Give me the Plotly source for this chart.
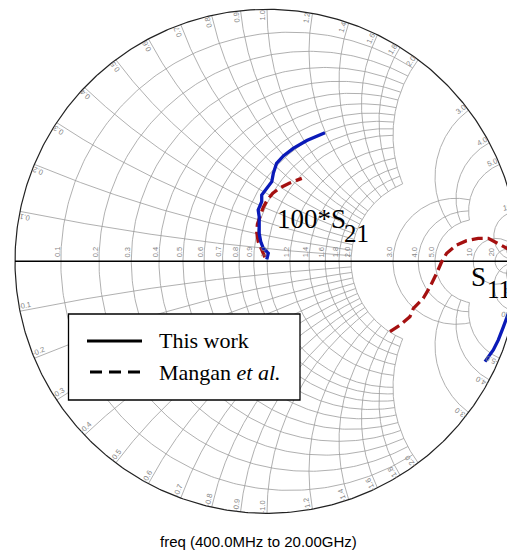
import numpy as np
import plotly.graph_objects as go

# ---------------- data (reflection coefficients, Gamma plane) ----------------
s21_this_re = [-0.001, 0.005, -0.015, -0.025, -0.031, -0.031, -0.031, -0.035, -0.021, -0.021,
               -0.001, 0.019, 0.025, 0.038, 0.065, 0.104, 0.158, 0.230]
s21_this_im = [0.008, 0.032, 0.052, 0.078, 0.111, 0.151, 0.177, 0.204, 0.237, 0.263,
               0.290, 0.316, 0.349, 0.389, 0.418, 0.448, 0.479, 0.510]

s21_mangan_re = [-0.008, -0.021, -0.035, -0.041, -0.038, -0.028, -0.015, 0.001, 0.023, 0.052, 0.088, 0.138]
s21_mangan_im = [0.016, 0.045, 0.078, 0.117, 0.148, 0.177, 0.214, 0.243, 0.270, 0.292, 0.310, 0.329]

s11_mangan_re = [0.488, 0.528, 0.567, 0.581, 0.620, 0.647, 0.673, 0.693, 0.713, 0.753,
                 0.792, 0.838, 0.878, 0.918, 0.964, 0.984]
s11_mangan_im = [-0.279, -0.253, -0.220, -0.187, -0.147, -0.101, -0.048, -0.002, 0.032, 0.065,
                 0.082, 0.091, 0.091, 0.071, 0.045, 0.032]

s11_this_re = [0.984, 0.971, 0.958, 0.938, 0.918, 0.898, 0.865]
s11_this_im = [-0.101, -0.154, -0.206, -0.260, -0.312, -0.352, -0.398]

# grid values (normalized resistance / reactance) and their labels
grid_vals = [0.1, 0.2, 0.3, 0.4, 0.5, 0.6, 0.7, 0.8, 0.9, 1.0,
             1.2, 1.4, 1.6, 1.8, 2.0, 3.0, 4.0, 5.0, 10, 20]
grid_labels = ["0.1", "0.2", "0.3", "0.4", "0.5", "0.6", "0.7", "0.8", "0.9", "1.0",
               "1.2", "1.4", "1.6", "1.8", "2.0", "3.0", "4.0", "5.0", "10", "20"]

legend_names = ["This work", "Mangan <i>et al.</i>"]
xlabel_text = "freq (400.0MHz to 20.00GHz)"

# ---------------- geometry of the page ----------------
OFF = 8                      # page body margin
W, H = 515 - OFF, 553 - OFF  # figure size
PLOT_H = 525 - OFF           # plot-area height (figure px)
CX, CY, RPX = 267.0 - OFF, 261.3 - OFF, 252.0
xr = [(0 - CX) / RPX, (W - CX) / RPX]
yr = [(CY - PLOT_H) / RPX, CY / RPX]


def px(x):  # page px -> paper
    return (x - OFF) / W


def py(y):
    return 1 - (y - OFF) / PLOT_H


def gamma(z):
    return (z - 1) / (z + 1)


def limit(v):  # extent of each grid line (in the other coordinate)
    if v <= 2.0:
        return 2.0
    if v <= 5.0:
        return 5.0
    return None


def r_circle(r, xm):
    c, rad = r / (1 + r), 1 / (1 + r)
    if xm is None:
        phi = np.linspace(0, 2 * np.pi, 400)
    else:
        g = gamma(complex(r, xm))
        pm = np.arctan2(g.imag, g.real - c)
        phi = np.linspace(pm, 2 * np.pi - pm, 300)
    return c + rad * np.cos(phi), rad * np.sin(phi)


def x_arc(x, rm):
    cyc, rad = 1 / x, 1 / x
    g0 = gamma(complex(0, x))
    p0 = np.arctan2(g0.imag - cyc, g0.real - 1) % (2 * np.pi)
    if rm is None:
        p1 = 1.5 * np.pi
    else:
        g1 = gamma(complex(rm, x))
        p1 = np.arctan2(g1.imag - cyc, g1.real - 1) % (2 * np.pi)
    phi = np.linspace(p0, p1, 300)
    return 1 + rad * np.cos(phi), cyc + rad * np.sin(phi)


gx, gy = [], []
for v in grid_vals:
    a, b = r_circle(v, limit(v))
    gx += list(a) + [None]
    gy += list(b) + [None]
    a, b = x_arc(v, limit(v))
    gx += list(a) + [None] + list(a) + [None]
    gy += list(b) + [None] + list(-b) + [None]

fig = go.Figure()
fig.add_trace(go.Scatter(x=gx, y=gy, mode="lines", line=dict(color="#9c9c9c", width=0.8),
                         hoverinfo="skip", showlegend=False))
t = np.linspace(0, 2 * np.pi, 600)
fig.add_trace(go.Scatter(x=np.cos(t), y=np.sin(t), mode="lines", line=dict(color="#222222", width=1.2),
                         hoverinfo="skip", showlegend=False))
fig.add_trace(go.Scatter(x=[-1, 1], y=[0, 0], mode="lines", line=dict(color="#000000", width=1.4),
                         hoverinfo="skip", showlegend=False))

BLUE = "#0a1ab8"
RED = "#a51010"
fig.add_trace(go.Scatter(x=s21_mangan_re, y=s21_mangan_im, mode="lines", name=legend_names[1],
                         line=dict(color=RED, width=3.3, dash="11px,5px"), showlegend=False))
fig.add_trace(go.Scatter(x=s11_mangan_re, y=s11_mangan_im, mode="lines", name=legend_names[1],
                         line=dict(color=RED, width=3.3, dash="11px,5px"), showlegend=False))
fig.add_trace(go.Scatter(x=s21_this_re, y=s21_this_im, mode="lines", name=legend_names[0],
                         line=dict(color=BLUE, width=3.3), showlegend=False))
fig.add_trace(go.Scatter(x=s11_this_re, y=s11_this_im, mode="lines", name=legend_names[0],
                         line=dict(color=BLUE, width=3.3), showlegend=False))

ann = []
LBL = dict(family="Liberation Sans, Arial", size=7.5, color="#858585")
XMAX = (511 - OFF - CX) / RPX
# real-axis labels
for v, s in zip(grid_vals, grid_labels):
    g = gamma(complex(v, 0))
    ann.append(dict(x=g.real - 4 / RPX, y=9 / RPX, xref="x", yref="y", text=s, showarrow=False,
                    textangle=-90, font=LBL, xanchor="center", yanchor="middle"))
# rim labels
d_t, d_r = 5 / RPX, 6 / RPX
for v, s in zip(grid_vals, grid_labels):
    for sign in (1, -1):
        g = gamma(complex(0, sign * v))
        th = np.arctan2(g.imag, g.real)
        th2 = th + sign * d_t
        rr = 1 - d_r
        if sign > 0:
            ang = -np.degrees(th)
            txt = s
        else:
            ang = -np.degrees(th + np.pi)
            txt = "-" + s
        ang = (ang + 180) % 360 - 180
        ann.append(dict(x=min(rr * np.cos(th2), XMAX), y=rr * np.sin(th2), xref="x", yref="y", text=txt,
                        showarrow=False, textangle=ang, font=LBL, xanchor="center", yanchor="middle"))

SERIF = "Liberation Serif, Times New Roman"
ann.append(dict(x=px(275), y=py(219), xref="paper", yref="paper", text="100*S", showarrow=False,
                xanchor="left", yanchor="middle", font=dict(family=SERIF, size=27, color="black")))
ann.append(dict(x=px(342), y=py(233), xref="paper", yref="paper", text="21", showarrow=False,
                xanchor="left", yanchor="middle", font=dict(family=SERIF, size=25, color="black")))
ann.append(dict(x=px(469), y=py(277), xref="paper", yref="paper", text="S", showarrow=False,
                xanchor="left", yanchor="middle", font=dict(family=SERIF, size=27, color="black")))
ann.append(dict(x=px(485), y=py(289), xref="paper", yref="paper", text="11", showarrow=False,
                xanchor="left", yanchor="middle", font=dict(family=SERIF, size=25, color="black")))
# legend texts
ann.append(dict(x=px(157), y=py(340), xref="paper", yref="paper", text=legend_names[0], showarrow=False,
                xanchor="left", yanchor="middle", font=dict(family=SERIF, size=22, color="black")))
ann.append(dict(x=px(157), y=py(372), xref="paper", yref="paper", text=legend_names[1], showarrow=False,
                xanchor="left", yanchor="middle", font=dict(family=SERIF, size=22, color="black")))
# bottom caption
ann.append(dict(x=px(258), y=py(541), xref="paper", yref="paper", text=xlabel_text, showarrow=False,
                xanchor="center", yanchor="middle",
                font=dict(family="Liberation Sans, Arial", size=15, color="black")))

shapes = [
    dict(type="rect", xref="paper", yref="paper", x0=px(68.5), x1=px(300), y0=py(314), y1=py(400),
         line=dict(color="black", width=1.3), fillcolor="white", layer="above"),
    dict(type="line", xref="paper", yref="paper", x0=px(87), x1=px(142), y0=py(341), y1=py(341),
         line=dict(color="black", width=3)),
    dict(type="line", xref="paper", yref="paper", x0=px(90), x1=px(140), y0=py(372), y1=py(372),
         line=dict(color="black", width=3, dash="12px,7px")),
]

fig.update_layout(
    width=W, height=H,
    margin=dict(l=0, r=0, t=0, b=H - PLOT_H),
    paper_bgcolor="white", plot_bgcolor="white",
    xaxis=dict(range=xr, visible=False, fixedrange=True),
    yaxis=dict(range=yr, visible=False, fixedrange=True),
    annotations=ann, shapes=shapes, showlegend=False,
)
fig.write_html("out.html")
